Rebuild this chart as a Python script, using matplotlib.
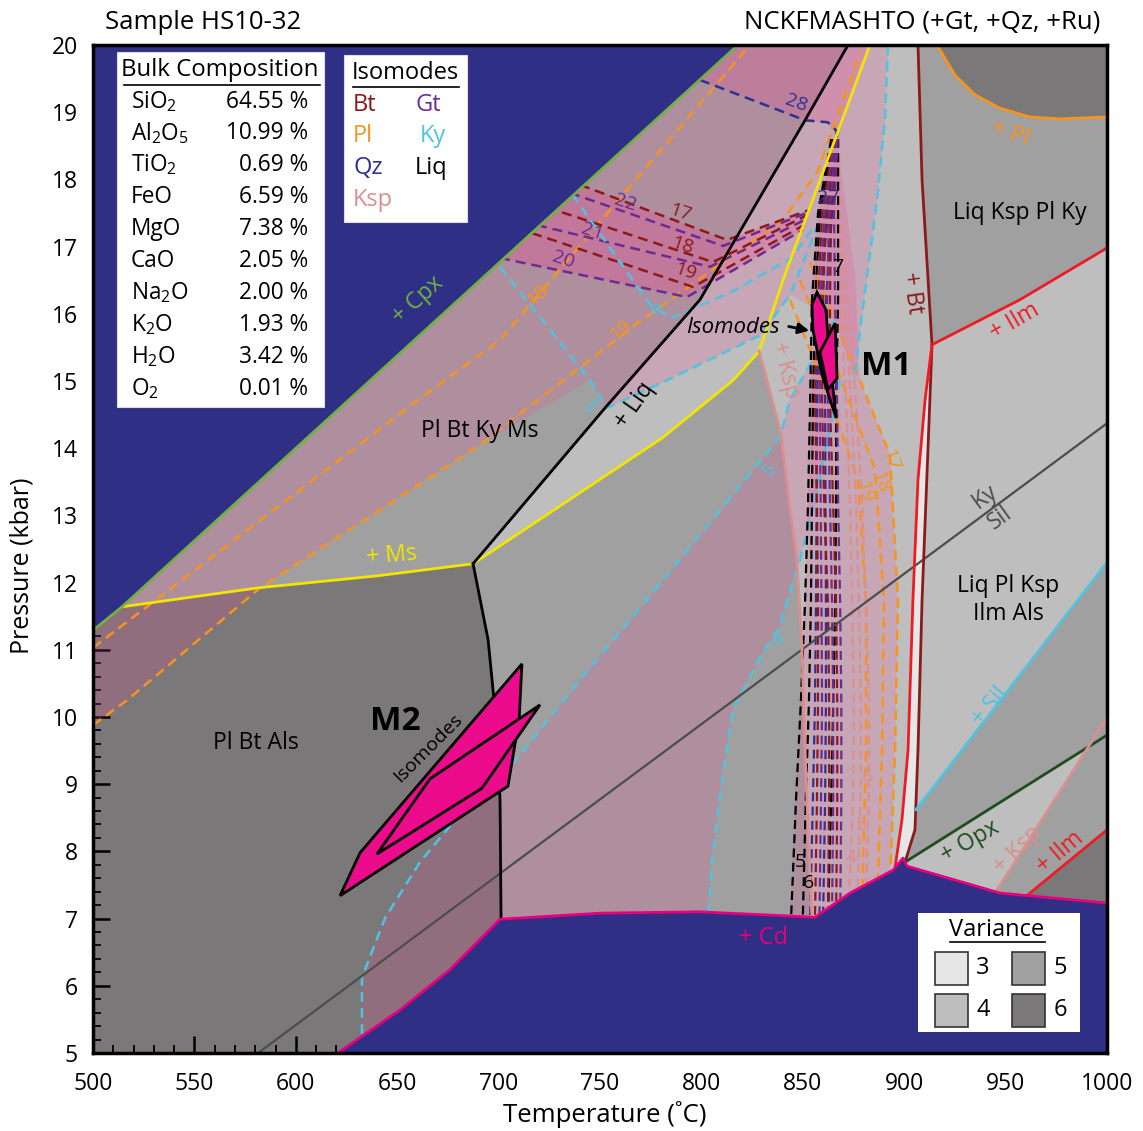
import matplotlib
matplotlib.use("Agg")
import matplotlib.pyplot as plt
from matplotlib.patches import Polygon, Rectangle
from matplotlib.ticker import MultipleLocator

plt.rcParams['font.family'] = ['Open Sans', 'DejaVu Sans']
plt.rcParams['mathtext.fontset'] = 'custom'
plt.rcParams['mathtext.rm'] = 'Open Sans'
plt.rcParams['mathtext.it'] = 'Open Sans:italic'
plt.rcParams['mathtext.bf'] = 'Open Sans:bold'

# ---------------- colours ----------------
NAVY = '#2E2F85'
V3, V4, V5, V6 = '#E6E6E6', '#BEBEBE', '#A0A0A0', '#7A7878'
PINK = '#F04696'
MAG = '#EC0B8C'
C_CD = '#E6007E'
C_CPX = '#72B043'
C_MS = '#F2E600'
C_PL = '#F7941D'
C_KY = '#4FC3E0'
C_BT = '#8B1A1A'
C_GT = '#6A2C91'
C_QZ = '#2E3192'
C_KSP = '#DB8F8F'
C_ILM = '#ED1C24'
C_OPX = '#1F4D1F'
C_ALS = '#4D4D4D'

# ---------------- solid reaction boundaries (T degC, P kbar) ----------------
CPX_T = [500, 514.3, 818.0]
CPX_P = [11.29, 11.64, 20.0]
CD_T = [620.8, 651.4, 676.0, 700.7, 750.0, 799.3, 856.0, 873.3, 894.5, 899.4, 901.4, 947.2, 1000]
CD_P = [5.00, 5.64, 6.24, 6.99, 7.08, 7.10, 7.02, 7.38, 7.72, 7.90, 7.78, 7.38, 7.23]
MS_T = [514.3, 580.9, 640.0, 687.4]
MS_P = [11.64, 11.92, 12.10, 12.28]
LIQ_T = [687.4, 752.5, 799.3, 851.1, 872.3]
LIQ_P = [12.28, 14.60, 16.21, 18.88, 20.0]
LOWB_T = [687.4, 694.8, 698.7, 700.7, 701.2]
LOWB_P = [12.28, 11.15, 9.96, 8.76, 6.98]
YEL_T = [687.4, 780.6, 815.6, 827.9, 830.4, 840.2, 883.1]
YEL_P = [12.28, 14.15, 15.01, 15.42, 15.61, 16.50, 20.0]
KSPM_T = [828.4, 839.2, 843.1, 847.1, 849.6, 851.1, 853.0, 854.5]
KSPM_P = [15.45, 14.22, 13.23, 12.34, 11.00, 9.51, 8.02, 7.02]
BT_T = [906.8, 908.8, 913.7, 911.7, 908.8, 906.8, 905.3, 900.4]
BT_P = [20.0, 17.99, 15.54, 13.97, 11.74, 9.51, 8.32, 7.84]
ILML_T = [913.7, 910.3, 906.8, 904.3, 901.9, 898.9, 895.5]
ILML_P = [15.54, 14.72, 13.53, 11.74, 9.51, 8.47, 7.76]
ILMU_T = [913.7, 957.1, 1000]
ILMU_P = [15.54, 16.21, 16.98]
PLU_T = [916.2, 925.1, 934.9, 947.2, 962.0, 976.8, 1000]
PLU_P = [20.0, 19.55, 19.26, 19.06, 18.93, 18.90, 18.93]
KYSIL_T = [581.4, 1000]
KYSIL_P = [5.0, 14.37]
SIL_T = [905.8, 1000]
SIL_P = [8.62, 12.30]
OPX_T = [900.4, 1000]
OPX_P = [7.84, 9.73]
KSPR_T = [944.8, 1000]
KSPR_P = [7.38, 9.99]
ILMR_T = [959.6, 1000]
ILMR_P = [7.32, 8.32]

# ---------------- isomodes (dashed) ----------------
PL18_T = [500, 660.3, 700.7, 823.0]
PL18_P = [11.03, 14.72, 15.61, 19.97]
PL19_T = [500, 516.8, 582.3, 689.3, 767.2, 840.2, 857.0, 878.2]
PL19_P = [9.88, 10.25, 11.92, 14.02, 15.83, 17.40, 18.10, 19.89]
PL17R_T = [853.6, 878.2, 893.0, 896.9, 895.5, 893.0]
PL17R_P = [16.77, 15.01, 13.90, 11.74, 9.51, 7.57]
PL18R_T = [848.6, 870.8, 885.6, 890.0, 889.1, 886.6]
PL18R_P = [16.50, 14.87, 13.68, 11.74, 9.51, 7.20]
PL19R_T = [843.7, 863.4, 877.2, 881.2, 881.2, 879.2]
PL19R_P = [16.21, 14.72, 13.53, 11.74, 9.51, 7.20]
QZ28_T = [799.3, 851.1, 862.4, 866.4, 867.4]
QZ28_P = [19.48, 18.88, 18.85, 18.73, 18.50]
BT17_T = [740.1, 812.6, 852.6]
BT17_P = [17.92, 17.10, 17.54]
GT22_T = [735.2, 810.7, 852.6]
GT22_P = [17.80, 17.01, 17.51]
BT18_T = [731.3, 805.7, 851.6]
BT18_P = [17.51, 16.77, 17.46]
GT21_T = [718.9, 804.2, 851.1]
GT21_P = [17.32, 16.70, 17.40]
BT19_T = [716.5, 795.9, 850.6]
BT19_P = [17.20, 16.40, 17.32]
GT20_T = [700.7, 792.9, 850.1]
GT20_P = [16.83, 16.25, 17.25]
KY4U_T = [736.2, 775.6, 785.5, 816.6, 845.2, 856.0]
KY4U_P = [17.78, 16.10, 15.94, 16.35, 16.85, 17.32]
KY5U_T = [700.7, 745.1, 753.5, 783.0, 828.9, 843.7, 859.5]
KY5U_P = [16.70, 15.01, 14.60, 15.01, 15.68, 16.28, 17.47]
KYBIG_T = [892.0, 890.5, 886.6, 882.1, 878.2, 875.7]
KYBIG_P = [20.0, 18.88, 17.69, 16.65, 15.76, 15.01]
KY5M_T = [865.9, 843.7, 838.8, 809.2, 769.7, 740.1, 709.1, 684.4, 661.2, 644.0, 632.6, 632.6]
KY5M_P = [15.91, 14.72, 14.17, 13.07, 11.62, 10.55, 9.375, 8.68, 7.84, 7.01, 6.12, 5.19]
KY4M_T = [868.4, 856.0, 848.6, 837.8, 830.4, 815.6, 810.2, 805.2, 803.3]
KY4M_P = [15.01, 13.23, 12.34, 11.29, 10.97, 10.13, 9.06, 7.87, 7.05]

# steep isomode bundle between the + Ksp and + Bt boundaries
BUNDLE_P = [18.6, 17.5, 16.2, 14.7, 13.2, 11.7, 10.2, 8.8, 7.0]
LIQ5_T = [864.0, 857.5, 854.5, 853.6, 852.6, 851.1, 849.0, 846.7, 844.2]
LIQ6_T = [865.0, 858.5, 856.0, 855.0, 854.5, 854.0, 853.0, 851.5, 850.0]
LIQ7_T = [867.4, 867.4, 867.4, 866.4, 866.4, 866.0, 865.0, 864.0, 862.4]
QZA_T = [866.4, 862.4, 858.5, 857.0, 856.8, 856.5, 856.0, 855.0, 853.6]
QZB_T = [866.9, 864.4, 861.4, 861.0, 861.2, 861.4, 861.4, 861.0, 860.0]
BTA_T = [865.4, 859.5, 857.5, 856.0, 857.0, 857.5, 857.5, 857.0, 856.0]
BTB_T = [866.0, 861.4, 860.0, 859.5, 860.5, 862.4, 863.0, 863.0, 862.4]
BTC_T = [867.0, 864.0, 863.4, 863.4, 864.9, 866.4, 867.0, 867.0, 866.4]
GTA_T = [865.7, 860.5, 858.8, 858.3, 858.8, 859.2, 859.5, 859.0, 858.2]
GTB_T = [866.6, 863.0, 862.0, 862.4, 863.4, 864.4, 865.0, 865.0, 864.4]
GTC_T = [867.2, 865.4, 865.9, 866.9, 867.4, 868.4, 869.0, 869.0, 868.4]
KSP4_T = [867.4, 866.4, 868.4, 871.3, 873.3, 874.3, 875.2, 874.8, 872.3]
KSP5_T = [867.6, 867.4, 870.3, 873.8, 876.2, 877.7, 878.6, 878.6, 876.5]
KSP6_T = [867.8, 868.4, 872.3, 876.2, 879.2, 881.2, 882.6, 882.6, 880.7]

# pink isomode domains for M1 / M2
PZA_T = [500, 516.8, 582.3, 689.3, 745.1, 753.5, 783.0, 828.9, 843.7, 865.9, 875.7, 878.2, 882.1, 886.6, 890.5, 892.0, 500]
PZA_P = [9.88, 10.25, 11.92, 14.02, 15.01, 14.60, 15.01, 15.68, 16.28, 15.91, 15.01, 15.76, 16.65, 17.69, 18.88, 20.0, 20.0]
PZB_T = [843.7, 846.2, 848.6, 851.1, 852.6, 853.6, 854.5, 857.5, 866.4, 875.7, 878.2, 893.0, 896.9, 895.5, 893.0, 873.0]
PZB_P = [7.0, 8.8, 10.2, 11.7, 13.2, 14.7, 16.2, 17.5, 18.7, 16.6, 15.01, 13.90, 11.74, 9.51, 7.57, 7.2]
PZ28_T = [799.3, 851.1, 862.4, 867.4, 882.0, 780.0]
PZ28_P = [19.48, 18.88, 18.85, 18.60, 20.0, 20.0]

# M1 and M2 isomode intersections
M1A_T = [857.0, 861.4, 862.9, 866.4, 859.5, 855.0, 854.5]
M1A_P = [16.32, 16.06, 15.46, 14.45, 15.09, 15.76, 16.13]
M1B_T = [858.5, 865.9, 866.9, 862.4]
M1B_P = [15.43, 15.86, 15.04, 14.87]
M2A_T = [711.5, 710.1, 704.6, 621.8, 631.7]
M2A_P = [10.79, 9.96, 8.97, 7.34, 7.98]
M2B_T = [720.4, 691.8, 640.0, 666.2]
M2B_P = [10.18, 8.94, 7.96, 9.08]

# bulk composition (wt %)
OXIDES = ['SiO$_\\mathrm{2}$', 'Al$_\\mathrm{2}$O$_\\mathrm{5}$', 'TiO$_\\mathrm{2}$', 'FeO', 'MgO', 'CaO',
          'Na$_\\mathrm{2}$O', 'K$_\\mathrm{2}$O', 'H$_\\mathrm{2}$O', 'O$_\\mathrm{2}$']
WT = [64.55, 10.99, 0.69, 6.59, 7.38, 2.05, 2.00, 1.93, 3.42, 0.01]

fig = plt.figure(figsize=(11.43, 11.31), dpi=100)
ax = fig.add_axes([0.0814, 0.069, 0.8871, 0.8912])
ax.set_facecolor(V4)
ax.set_xlim(500, 1000)
ax.set_ylim(5, 20)


def pts(T, P):
    return list(zip(T, P))


def fill(poly, color, z=1, alpha=1.0):
    ax.add_patch(Polygon(poly, closed=True, fc=color, ec='none', alpha=alpha, zorder=z))


def line(T, P, color, lw=1.8, z=4, dashed=False):
    kw = dict(dashes=(4, 2.4)) if dashed else {}
    ax.plot(T, P, color=color, lw=lw, zorder=z, solid_joinstyle='round', **kw)


# ---------------- variance fields ----------------
fill(pts(CPX_T[1:], CPX_P[1:]) + pts(LIQ_T[::-1], LIQ_P[::-1]) + pts(MS_T[::-1], MS_P[::-1]), V5)
fill([(500, 5)] + pts(CD_T[:4], CD_P[:4]) + pts(LOWB_T[::-1], LOWB_P[::-1])
     + pts(MS_T[::-1], MS_P[::-1]) + [(500, CPX_P[0])], V6)
fill(pts(LOWB_T[::-1], LOWB_P[::-1]) + pts(YEL_T[1:4], YEL_P[1:4]) + pts(KSPM_T, KSPM_P)
     + pts(CD_T[3:6][::-1], CD_P[3:6][::-1]), V5)
fill(pts(ILML_T, ILML_P) + pts(BT_T[2:][::-1], BT_P[2:][::-1]), V3)
fill(pts(BT_T[:3], BT_P[:3]) + pts(ILMU_T[1:], ILMU_P[1:]) + pts(PLU_T[::-1], PLU_P[::-1]), V5)
fill(pts(PLU_T, PLU_P) + [(1000, 20)], V6)
fill(pts(SIL_T, SIL_P) + pts(OPX_T[::-1], OPX_P[::-1]) + [(BT_T[6], BT_P[6])], V5)
fill(pts(KSPR_T, KSPR_P) + [(1000, CD_P[-1])], V5)
fill(pts(ILMR_T, ILMR_P) + [(1000, CD_P[-1])], V6)

# ---------------- pink isomode domains ----------------
fill(pts(PZA_T, PZA_P), PINK, z=2, alpha=0.2)
fill(pts(KY5M_T[::-1], KY5M_P[::-1]) + pts(KY4M_T, KY4M_P) + pts(CD_T[:6][::-1], CD_P[:6][::-1]),
     PINK, z=2, alpha=0.2)
fill(pts(PZB_T, PZB_P), PINK, z=2, alpha=0.2)
fill(pts(BT17_T, BT17_P) + pts(GT20_T[::-1], GT20_P[::-1]), PINK, z=2, alpha=0.3)
fill(pts(PZ28_T, PZ28_P), PINK, z=2, alpha=0.22)

# ---------------- dashed isomodes ----------------
for T, P, c in [(PL18_T, PL18_P, C_PL), (PL19_T, PL19_P, C_PL), (PL17R_T, PL17R_P, C_PL),
                (PL18R_T, PL18R_P, C_PL), (PL19R_T, PL19R_P, C_PL), (QZ28_T, QZ28_P, C_QZ),
                (BT17_T, BT17_P, C_BT), (GT22_T, GT22_P, C_GT), (BT18_T, BT18_P, C_BT),
                (GT21_T, GT21_P, C_GT), (BT19_T, BT19_P, C_BT), (GT20_T, GT20_P, C_GT),
                (KY4U_T, KY4U_P, C_KY), (KY5U_T, KY5U_P, C_KY), (KYBIG_T, KYBIG_P, C_KY),
                (KY5M_T, KY5M_P, C_KY), (KY4M_T, KY4M_P, C_KY)]:
    line(T, P, c, lw=1.8, z=3, dashed=True)

for T, c in [(KSP4_T, C_KSP), (KSP5_T, C_KSP), (KSP6_T, C_KSP), (LIQ5_T, 'k'), (LIQ6_T, 'k'),
             (LIQ7_T, 'k'), (QZA_T, C_QZ), (QZB_T, C_QZ), (BTA_T, C_BT), (BTB_T, C_BT),
             (BTC_T, C_BT), (GTA_T, C_GT), (GTB_T, C_GT), (GTC_T, C_GT)]:
    line(T, BUNDLE_P, c, lw=1.6, z=3, dashed=True)

# ---------------- solid boundaries ----------------
line(KYSIL_T, KYSIL_P, C_ALS, lw=1.6, z=3.5)
line(MS_T, MS_P, C_MS, lw=2)
line(YEL_T, YEL_P, C_MS, lw=2)
line(LIQ_T, LIQ_P, 'k', lw=2)
line(LOWB_T, LOWB_P, 'k', lw=2)
line(KSPM_T, KSPM_P, C_KSP, lw=2)
line(BT_T, BT_P, C_BT, lw=2)
line(ILML_T, ILML_P, C_ILM, lw=2)
line(ILMU_T, ILMU_P, C_ILM, lw=2)
line(PLU_T, PLU_P, C_PL, lw=2)
line(SIL_T, SIL_P, C_KY, lw=2)
line(OPX_T, OPX_P, C_OPX, lw=2)
line(KSPR_T, KSPR_P, C_KSP, lw=2)
line(ILMR_T, ILMR_P, C_ILM, lw=2)

# ---------------- outside the modelled assemblage ----------------
fill(pts(CPX_T, CPX_P) + [(500, 20)], NAVY, z=5)
fill(pts(CD_T, CD_P) + [(1000, 5)], NAVY, z=5)
line(CPX_T, CPX_P, C_CPX, lw=2, z=6)
line(CD_T, CD_P, C_CD, lw=2, z=6)

# ---------------- M1 / M2 ----------------
for T, P in [(M2A_T, M2A_P), (M2B_T, M2B_P), (M1A_T, M1A_P), (M1B_T, M1B_P)]:
    ax.add_patch(Polygon(pts(T, P), closed=True, fc=MAG, ec='k', lw=2, zorder=7, joinstyle='miter'))

# ---------------- labels ----------------
def lab(T, P, s, c='k', fs=16.5, rot=0, **kw):
    ax.text(T, P, s, color=c, fontsize=fs, rotation=rot, ha='center', va='center',
            rotation_mode='anchor', zorder=8, **kw)


lab(690.8, 14.26, 'Pl Bt Ky Ms')
lab(580.4, 9.61, 'Pl Bt Als')
lab(957.1, 17.50, 'Liq Ksp Pl Ky')
lab(951.2, 11.74, 'Liq Pl Ksp\nIlm Als', linespacing=1.25)
lab(660.3, 16.20, '+ Cpx', C_CPX, rot=42)
lab(647.4, 12.40, '+ Ms', C_MS, rot=5)
lab(767.3, 14.64, '+ Liq', rot=55)
lab(841.2, 15.16, '+ Ksp', C_KSP, rot=-75)
lab(903.8, 16.31, '+ Bt', C_BT, rot=-82)
lab(954.6, 15.88, '+ Ilm', C_ILM, rot=30)
lab(952.2, 18.68, '+ Pl', C_PL, rot=-20)
lab(939.8, 13.27, 'Ky', C_ALS, rot=36)
lab(947.2, 12.96, 'Sil', C_ALS, rot=36)
lab(942.3, 10.15, '+ Sil', C_KY, rot=50)
lab(932.4, 8.14, '+ Opx', C_OPX, rot=30)
lab(956.1, 8.02, '+ Ksp', C_KSP, rot=45)
lab(976.8, 7.99, '+ Ilm', C_ILM, rot=40)
lab(830.4, 6.71, '+ Cd', C_CD, fs=17)
lab(648.9, 9.93, 'M2', fs=24, fontweight='bold')
lab(665.2, 9.54, 'Isomodes', fs=14, rot=45)
lab(891.0, 15.22, 'M1', fs=24, fontweight='bold')
lab(815.6, 15.79, 'Isomodes', fs=16, style='italic')
ax.annotate('', xy=(854.5, 15.74), xytext=(841.7, 15.82), zorder=8,
            arrowprops=dict(arrowstyle='-|>', color='k', lw=2, mutation_scale=16))

# isomode values
for T, P, s, c, r in [(719.4, 16.28, '18', C_PL, 40), (759.9, 15.76, '19', C_PL, 40),
                      (776.1, 16.09, '4', C_KY, -55), (744.1, 14.60, '5', C_KY, -55),
                      (833.8, 13.68, '5', C_KY, 50), (837.8, 11.15, '4', C_KY, 50),
                      (762.3, 17.66, '22', C_GT, -18), (789.4, 17.51, '17', C_BT, -18),
                      (746.1, 17.22, '21', C_GT, -18), (790.4, 17.02, '18', C_BT, -18),
                      (731.8, 16.80, '20', C_GT, -18), (791.9, 16.62, '19', C_BT, -18),
                      (846.6, 19.14, '28', C_QZ, -20), (862.4, 17.72, '27', C_QZ, 0),
                      (867.4, 16.70, '7', 'k', 0), (848.6, 7.84, '5', 'k', 0), (852.6, 7.53, '6', 'k', 0),
                      (882.1, 9.11, '6', C_KSP, 0), (878.7, 8.39, '5', C_KSP, 0), (873.8, 7.90, '4', C_KSP, 0),
                      (893.0, 13.82, '17', C_PL, -72), (888.1, 13.50, '18', C_PL, -72),
                      (880.2, 13.35, '19', C_PL, -72)]:
    lab(T, P, s, c, fs=14, rot=r)

# ---------------- boxes ----------------
tr = ax.transAxes
ax.add_patch(Rectangle((0.0237, 0.6409), 0.2041, 0.3522, transform=tr, fc='white', ec='#DDDDDD', lw=0.8, zorder=9))
ax.text(0.1252, 0.9752, 'Bulk Composition', transform=tr, fontsize=17.3, ha='center', va='center', zorder=10)
ax.plot([0.0306, 0.2239], [0.9600, 0.9600], transform=tr, color='k', lw=1.2, zorder=10)
row_y = [0.9435, 0.9127, 0.8810, 0.8492, 0.8175, 0.7857, 0.7540, 0.7222, 0.6905, 0.6587]
for yy, ox, w in zip(row_y, OXIDES, WT):
    ax.text(0.0375, yy, ox, transform=tr, fontsize=16.3, ha='left', va='center', zorder=10)
    ax.text(0.2120, yy, f'{w:.2f} %', transform=tr, fontsize=16.3, ha='right', va='center', zorder=10)

ax.add_patch(Rectangle((0.2475, 0.8244), 0.1213, 0.1657, transform=tr, fc='white', ec='#DDDDDD', lw=0.8, zorder=9))
ax.text(0.3077, 0.9722, 'Isomodes', transform=tr, fontsize=17, ha='center', va='center', zorder=10)
ax.plot([0.2564, 0.3609], [0.9580, 0.9580], transform=tr, color='k', lw=1.2, zorder=10)
for xx, yy, s, c in [(0.2564, 0.9405, 'Bt', C_BT), (0.3176, 0.9405, 'Gt', C_GT),
                     (0.2564, 0.9097, 'Pl', C_PL), (0.3220, 0.9097, 'Ky', C_KY),
                     (0.2564, 0.8780, 'Qz', C_QZ), (0.3176, 0.8780, 'Liq', 'k'),
                     (0.2564, 0.8462, 'Ksp', C_KSP)]:
    ax.text(xx, yy, s, color=c, transform=tr, fontsize=17, ha='left', va='center', zorder=10)

ax.add_patch(Rectangle((0.8136, 0.0208), 0.1598, 0.1181, transform=tr, fc='white', ec='none', zorder=9))
ax.text(0.8915, 0.1220, 'Variance', transform=tr, fontsize=17, ha='center', va='center', zorder=10)
ax.plot([0.8452, 0.9389], [0.1100, 0.1100], transform=tr, color='k', lw=1.2, zorder=10)
for x0, y0, c, s in [(0.8304, 0.0675, V3, '3'), (0.9063, 0.0675, V5, '5'),
                     (0.8304, 0.0258, V4, '4'), (0.9063, 0.0258, V6, '6')]:
    ax.add_patch(Rectangle((x0, y0), 0.0325, 0.0327, transform=tr, fc=c, ec='#333333', lw=1.2, zorder=10))
    ax.text(x0 + 0.0473, y0 + 0.0165, s, transform=tr, fontsize=17, ha='center', va='center', zorder=10)

# ---------------- axes ----------------
ax.xaxis.set_major_locator(MultipleLocator(50))
ax.xaxis.set_minor_locator(MultipleLocator(10))
ax.yaxis.set_major_locator(MultipleLocator(1))
ax.yaxis.set_minor_locator(MultipleLocator(0.2))
ax.tick_params(which='both', direction='in', top=False, right=False, labelsize=16.5, color='k')
ax.tick_params(which='major', length=12, width=1.8)
ax.tick_params(axis='x', which='major', pad=14)
ax.tick_params(axis='y', which='major', pad=11)
ax.tick_params(which='minor', length=6, width=1.3)
for sp in ax.spines.values():
    sp.set_linewidth(2.5)
    sp.set_zorder(12)

fig.text(0.529, 0.0142, 'Temperature (˚C)', fontsize=18.5, ha='center', va='center')
fig.text(0.0192, 0.500, 'Pressure (kbar)', fontsize=18, ha='center', va='center', rotation=90)
fig.text(0.0919, 0.9805, 'Sample HS10-32', fontsize=18.5, ha='left', va='center')
fig.text(0.9624, 0.9805, 'NCKFMASHTO (+Gt, +Qz, +Ru)', fontsize=18.5, ha='right', va='center')

fig.savefig('out.png', dpi=100, facecolor='white')
